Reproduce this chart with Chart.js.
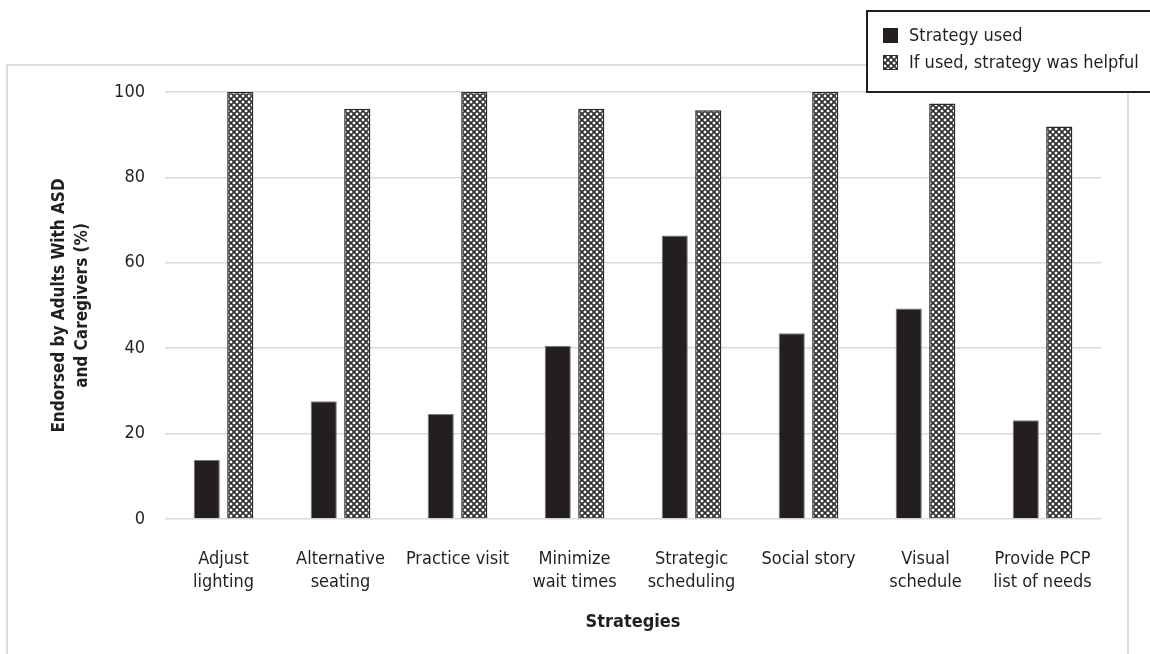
<!DOCTYPE html>
<html>
<head>
<meta charset="utf-8">
<script src="https://cdn.jsdelivr.net/npm/chart.js@4.4.1/dist/chart.umd.min.js"></script>
<style>
  html, body { margin: 0; padding: 0; background: #ffffff; }
  #wrap { width: 1150px; height: 654px; }
</style>
</head>
<body>
<div id="wrap"><canvas id="chart" width="1150" height="654"></canvas></div>
<script>
// Strategies on the x axis (multi-line labels)
const categories = [
  ['Adjust', 'lighting'],
  ['Alternative', 'seating'],
  'Practice visit',
  ['Minimize', 'wait times'],
  ['Strategic', 'scheduling'],
  'Social story',
  ['Visual', 'schedule'],
  ['Provide PCP', 'list of needs']
];
const seriesNames = ['Strategy used', 'If used, strategy was helpful'];
const strategyUsed = [13.8, 27.6, 24.6, 40.6, 66.4, 43.5, 49.3, 23.1];
const wasHelpful = [100, 96.1, 100, 96.1, 95.7, 100, 97.3, 91.9];
const yTicks = [0, 20, 40, 60, 80, 100];
const yTitle = ['Endorsed by Adults With ASD', 'and Caregivers (%)'];
const xTitle = 'Strategies';

const FONT = '"Liberation Sans Narrow", "DejaVu Sans Condensed", "Roboto", sans-serif';
const INK = '#231f20';
const GRID = '#d9d9d9';

// Diagonal cross-hatch fill
function crossHatch() {
  const s = 6;
  const c = document.createElement('canvas');
  c.width = s; c.height = s;
  const g = c.getContext('2d');
  g.fillStyle = '#ffffff';
  g.fillRect(0, 0, s, s);
  g.strokeStyle = '#2e2e2e';
  g.lineWidth = 1.7;
  g.beginPath();
  g.moveTo(-1, -1); g.lineTo(s + 1, s + 1);
  g.moveTo(-1, s + 1); g.lineTo(s + 1, -1);
  g.stroke();
  return g.createPattern(c, 'repeat');
}
const hatch = crossHatch();

// Outer frame behind the chart
const framePlugin = {
  id: 'frame',
  beforeDraw(chart) {
    const ctx = chart.ctx;
    ctx.save();
    ctx.strokeStyle = '#dcdcdc';
    ctx.lineWidth = 2;
    ctx.strokeRect(7, 65, 1121, 620);
    ctx.restore();
  }
};

// Boxed legend in the top-right corner
const legendBox = {
  id: 'legendBox',
  afterDraw(chart) {
    const ctx = chart.ctx;
    ctx.save();
    ctx.fillStyle = '#ffffff';
    ctx.fillRect(867, 11, 300, 81);
    ctx.strokeStyle = INK;
    ctx.lineWidth = 2;
    ctx.strokeRect(867, 11, 300, 81);
    ctx.font = '18px ' + FONT;
    ctx.textBaseline = 'middle';
    chart.data.datasets.forEach((ds, i) => {
      const y = 36 + i * 27;
      ctx.fillStyle = ds.backgroundColor;
      ctx.fillRect(883, y - 8, 15, 15);
      ctx.strokeStyle = i === 0 ? INK : '#2e2e2e';
      ctx.lineWidth = 1;
      ctx.strokeRect(883.5, y - 7.5, 14, 14);
      ctx.fillStyle = INK;
      ctx.fillText(ds.label, 909, y);
    });
    ctx.restore();
  }
};

new Chart(document.getElementById('chart'), {
  type: 'bar',
  data: {
    labels: categories,
    datasets: [
      {
        label: seriesNames[0],
        data: strategyUsed,
        backgroundColor: INK,
        borderColor: '#7a7a7a',
        borderWidth: 1,
        categoryPercentage: 0.573,
        barPercentage: 0.78
      },
      {
        label: seriesNames[1],
        data: wasHelpful,
        backgroundColor: hatch,
        borderColor: '#2a2a2a',
        borderWidth: 1.5,
        categoryPercentage: 0.573,
        barPercentage: 0.78
      }
    ]
  },
  options: {
    responsive: false,
    animation: false,
    devicePixelRatio: 1,
    layout: { padding: { top: 92, right: 49, bottom: 0, left: 0 } },
    plugins: {
      legend: { display: false },
      tooltip: { enabled: false }
    },
    scales: {
      x: {
        grid: { display: false },
        border: { display: false },
        ticks: {
          color: INK,
          font: { family: FONT, size: 18, lineHeight: 1.28 },
          padding: 21,
          maxRotation: 0,
          autoSkip: false
        },
        title: {
          display: true,
          text: xTitle,
          color: INK,
          font: { family: FONT, size: 18, weight: 'bold' },
          padding: { top: 0, bottom: 21 }
        },
        afterFit(s) { s.height = 135; }
      },
      y: {
        min: 0,
        max: 100,
        afterBuildTicks(s) { s.ticks = yTicks.map(v => ({ value: v })); },
        grid: { color: GRID, lineWidth: 1.5, drawTicks: false },
        border: { display: false },
        ticks: {
          color: INK,
          font: { family: FONT, size: 18 },
          padding: 20
        },
        title: {
          display: true,
          text: yTitle,
          color: INK,
          font: { family: FONT, size: 17, weight: 'bold', lineHeight: 1.3 },
          padding: { top: 49, bottom: 0 }
        },
        afterFit(s) { s.width = 165; }
      }
    }
  },
  plugins: [framePlugin, legendBox]
});
</script>
</body>
</html>
